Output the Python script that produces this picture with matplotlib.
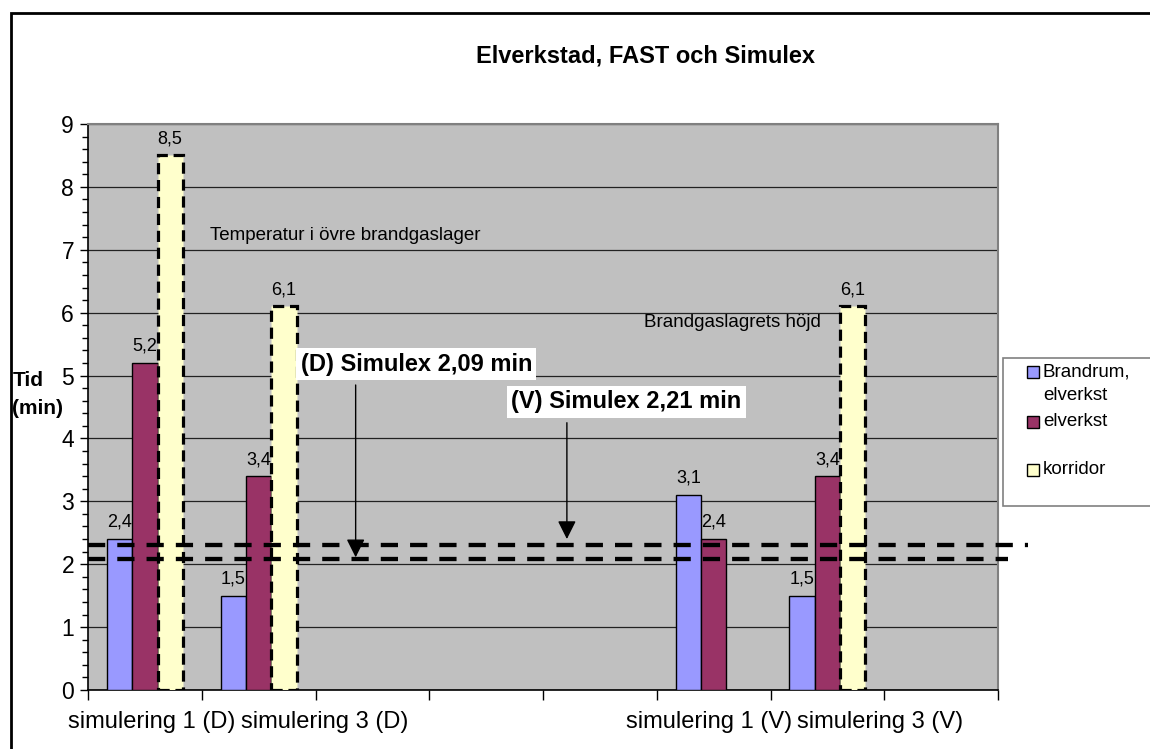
import numpy as np
import matplotlib
matplotlib.use("Agg")
import matplotlib.pyplot as plt
from matplotlib.patches import Rectangle
from matplotlib.transforms import blended_transform_factory

plt.rcParams['font.family'] = ['Liberation Sans', 'DejaVu Sans']

# --- data ---
categories = ['simulering 1 (D)', 'simulering 3 (D)', '', '', '',
              'simulering 1 (V)', 'simulering 3 (V)', '']
brandrum = [2.4, 1.5, np.nan, np.nan, np.nan, 3.1, 1.5, np.nan]
elverkst = [5.2, 3.4, np.nan, np.nan, np.nan, 2.4, 3.4, np.nan]
korridor = [8.5, 6.1, np.nan, np.nan, np.nan, np.nan, 6.1, np.nan]
series_labels = ['Brandrum,\nelverkst', 'elverkst', 'korridor']
simulex_levels = [2.08, 2.30]          # dashed reference lines (D), (V)
simulex_texts = ['(D) Simulex 2,09 min', '(V) Simulex 2,21 min']

# Excel nudged the crowded category labels sideways; shift in category units
label_shift = [0.06, 0.58, 0, 0, 0, -0.04, 0.46, 0]

colors = ['#9999FF', '#993366', '#FFFFCC']
W, H = 1150, 749


def fx(px):
    return px / W


def fy(py):
    return 1 - py / H


fig = plt.figure(figsize=(W / 100, H / 100), dpi=100)
fig.patch.set_facecolor('white')

# outer chart frame (runs off the right and bottom of the image)
fig.patches.append(Rectangle((fx(11), fy(800)), 1.2, fy(13) - fy(800),
                             transform=fig.transFigure, fill=False,
                             edgecolor='black', linewidth=2))

ax = fig.add_axes([fx(88), fy(690), fx(998) - fx(88), fy(124) - fy(690)])
ax.set_facecolor('#C0C0C0')

x = np.arange(len(categories))
bw = 0.222
offsets = [-bw, 0, bw]
all_series = [brandrum, elverkst, korridor]

for vals, off, col in zip(all_series[:2], offsets[:2], colors[:2]):
    ax.bar(x + off, vals, width=bw, color=col, edgecolor='black',
           linewidth=1, zorder=3)
ax.bar(x + offsets[2], korridor, width=bw, color=colors[2], edgecolor='black',
       linewidth=2.3, linestyle=(0, (3.5, 1.8)), zorder=3)

# value labels
for vals, off in zip(all_series, offsets):
    for xi, v in zip(x, vals):
        if np.isnan(v):
            continue
        ax.text(xi + off, v + 0.13, f'{v:.1f}'.replace('.', ','),
                ha='center', va='bottom', fontsize=13, color='black',
                zorder=6)

ax.set_xlim(-0.5, len(categories) - 0.5)
ax.set_ylim(0, 9)

# gridlines
ax.set_yticks(range(0, 10))
ax.yaxis.grid(True, color='#222222', linewidth=0.9, zorder=1)
ax.set_axisbelow(True)
ax.set_yticks(np.arange(0, 9.01, 0.2), minor=True)
ax.tick_params(axis='y', which='major', length=6, width=1, labelsize=16.5,
               direction='out', pad=4)
ax.tick_params(axis='y', which='minor', length=4, width=1, direction='out')

ax.set_xticks(np.arange(-0.5, len(categories), 1.0))
ax.set_xticklabels([])
ax.tick_params(axis='x', which='major', length=7, width=1, direction='out')

# category labels
tr = blended_transform_factory(ax.transData, ax.transAxes)
for xi, lbl, sh in zip(x, categories, label_shift):
    if lbl:
        ax.text(xi + sh, -0.057, lbl, transform=tr, fontsize=17,
                ha='center', va='center')

for side in ['top', 'right']:
    ax.spines[side].set_color('#808080')
    ax.spines[side].set_linewidth(1.5)
for side in ['left', 'bottom']:
    ax.spines[side].set_color('black')
    ax.spines[side].set_linewidth(1.2)

# dashed Simulex lines, extending past the plot area
line_ends = [7.59, 7.76]
for lvl, xend in zip(simulex_levels, line_ends):
    ax.plot([-0.5, xend], [lvl, lvl], color='black', linewidth=3.1,
            linestyle=(0, (4, 2.8)), zorder=5, clip_on=False)

# annotations with arrows
ax.annotate('', xy=(1.853, 2.11), xytext=(1.853, 4.85),
            arrowprops=dict(arrowstyle='-|>', color='black', lw=1,
                            mutation_scale=28, shrinkA=0, shrinkB=0),
            zorder=6)
ax.annotate('', xy=(3.71, 2.40), xytext=(3.71, 4.25),
            arrowprops=dict(arrowstyle='-|>', color='black', lw=1,
                            mutation_scale=28, shrinkA=0, shrinkB=0),
            zorder=6)
ax.text(1.37, 5.18, simulex_texts[0], fontsize=17, fontweight='bold',
        ha='left', va='center', zorder=7,
        bbox=dict(facecolor='white', edgecolor='none', pad=3))
ax.text(3.22, 4.58, simulex_texts[1], fontsize=17, fontweight='bold',
        ha='left', va='center', zorder=7,
        bbox=dict(facecolor='white', edgecolor='none', pad=3))

ax.text(0.575, 7.22, 'Temperatur i övre brandgaslager', fontsize=13.5,
        ha='left', va='center', zorder=6)
ax.text(4.39, 5.85, 'Brandgaslagrets höjd', fontsize=13.5,
        ha='left', va='center', zorder=6)

# title and y label (two lines placed separately)
fig.text(fx(645), fy(56), 'Elverkstad, FAST och Simulex', fontsize=17,
         fontweight='bold', ha='center', va='center')
fig.text(fx(13), fy(381), 'Tid', fontsize=15, fontweight='bold',
         ha='left', va='center')
fig.text(fx(12), fy(409), '(min)', fontsize=15, fontweight='bold',
         ha='left', va='center')

# legend box drawn in figure pixels to mimic the Excel spacing
fig.patches.append(Rectangle((fx(1003), fy(506)), fx(1200) - fx(1003),
                             fy(358) - fy(506), transform=fig.transFigure,
                             facecolor='white', edgecolor='#808080',
                             linewidth=1.2))
legend_y = [372, 422, 470]
for lbl, col, ly in zip(series_labels, colors, legend_y):
    fig.patches.append(Rectangle((fx(1027), fy(ly + 6)), fx(12), 12 / H,
                                 transform=fig.transFigure, facecolor=col,
                                 edgecolor='black', linewidth=1))
    for k, line in enumerate(lbl.split('\n')):
        fig.text(fx(1043), fy(ly + 23 * k), line, fontsize=13.5,
                 ha='left', va='center')

fig.savefig('out.png', dpi=100, facecolor='white')
